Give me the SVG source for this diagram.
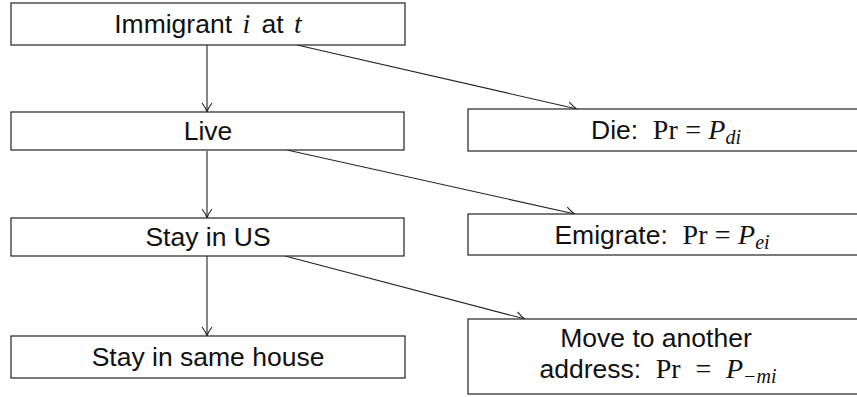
<svg xmlns="http://www.w3.org/2000/svg" width="857" height="397" viewBox="0 0 857 397">
<style>
.box{fill:#fff;stroke:#333;stroke-width:1.3}
.t{font-family:"Liberation Sans",Arial,sans-serif;font-size:26.5px;fill:#111;text-anchor:middle}
.m{font-family:"Liberation Serif","Times New Roman",serif;font-size:28px}
.mi{font-family:"Liberation Serif","Times New Roman",serif;font-style:italic;font-size:28px}
.sub{font-family:"Liberation Serif","Times New Roman",serif;font-style:italic;font-size:20px}
.c{fill:none;stroke:#222;stroke-width:1.1}
</style>
<defs>
<marker id="ah" markerWidth="14" markerHeight="14" refX="0" refY="0" viewBox="-10 -7 14 14" orient="auto" markerUnits="userSpaceOnUse">
<path d="M-9,-5 Q-4,-1 0,0 Q-4,1 -9,5" fill="none" stroke="#222" stroke-width="1.1"/>
</marker>
</defs>
<g id="connectors">
<line class="c" x1="207" y1="45" x2="207" y2="112" marker-end="url(#ah)"/>
<line class="c" x1="207" y1="151" x2="207" y2="218" marker-end="url(#ah)"/>
<line class="c" x1="207" y1="256" x2="207" y2="336" marker-end="url(#ah)"/>
<line class="c" x1="297" y1="45" x2="577" y2="109" marker-end="url(#ah)"/>
<line class="c" x1="287" y1="150" x2="575" y2="214" marker-end="url(#ah)"/>
<line class="c" x1="285" y1="256" x2="525" y2="319" marker-end="url(#ah)"/>
</g>
<g id="immigrant">
<rect class="box" x="11" y="3" width="394" height="42"/>
<text class="t" x="208" y="33" xml:space="preserve">Immigrant <tspan class="mi" dx="3">i</tspan><tspan dx="4"> at </tspan><tspan class="mi" dx="3">t</tspan></text>
</g>
<g id="live">
<rect class="box" x="11" y="112" width="393" height="38"/>
<text class="t" x="208" y="140">Live</text>
</g>
<g id="die">
<rect class="box" x="468" y="109" width="400" height="42"/>
<text class="t" x="666" y="139" xml:space="preserve">Die:  <tspan class="m">Pr</tspan> <tspan class="m">=</tspan> <tspan class="mi">P</tspan><tspan class="sub" dy="5">di</tspan></text>
</g>
<g id="stayus">
<rect class="box" x="11" y="218" width="393" height="38"/>
<text class="t" x="208" y="246">Stay in US</text>
</g>
<g id="emigrate">
<rect class="box" x="468" y="214" width="400" height="41"/>
<text class="t" x="662" y="244" xml:space="preserve">Emigrate:  <tspan class="m">Pr</tspan> <tspan class="m">=</tspan> <tspan class="mi">P</tspan><tspan class="sub" dy="5">ei</tspan></text>
</g>
<g id="samehouse">
<rect class="box" x="11" y="336" width="394" height="42"/>
<text class="t" x="208" y="366">Stay in same house</text>
</g>
<g id="move">
<rect class="box" x="468" y="319" width="400" height="75"/>
<text class="t" x="656" y="347">Move to another</text>
<text class="t" x="658" y="378" xml:space="preserve">address:  <tspan class="m">Pr</tspan>  <tspan class="m">=</tspan>  <tspan class="mi">P</tspan><tspan class="sub" dy="5">−mi</tspan></text>
</g>
</svg>
